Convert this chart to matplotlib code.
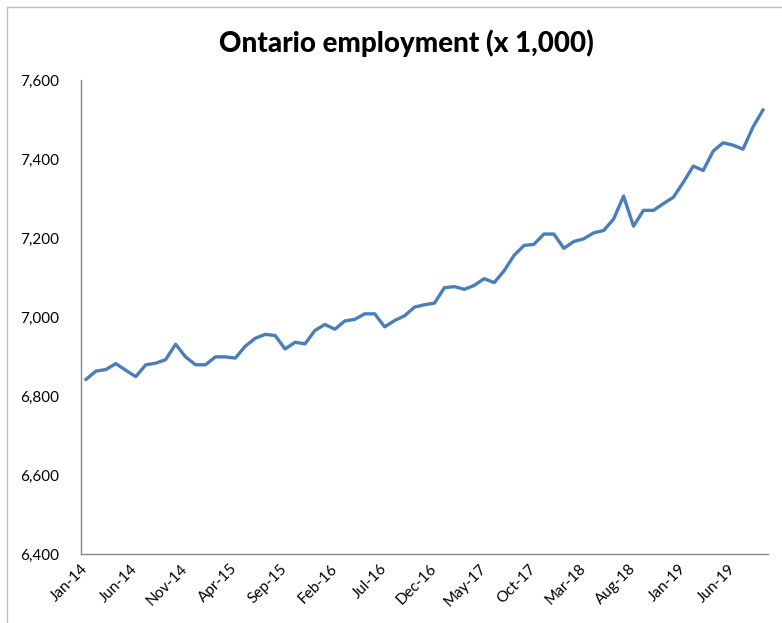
import matplotlib.pyplot as plt
from matplotlib.lines import Line2D
from matplotlib.ticker import FuncFormatter

# monthly values, Jan-14 .. Sep-19 (thousands)
months = ["Jan", "Feb", "Mar", "Apr", "May", "Jun",
          "Jul", "Aug", "Sep", "Oct", "Nov", "Dec"]
years = [14, 15, 16, 17, 18, 19]
employment = [
    6842, 6863, 6867, 6882, 6865, 6849, 6879, 6883, 6892, 6931, 6899, 6879,
    6879, 6899, 6899, 6896, 6926, 6946, 6956, 6953, 6919, 6936, 6932, 6966,
    6981, 6969, 6990, 6994, 7008, 7008, 6975, 6991, 7003, 7025, 7031, 7035,
    7074, 7077, 7070, 7080, 7097, 7087, 7117, 7156, 7181, 7184, 7210, 7210,
    7174, 7191, 7198, 7213, 7219, 7248, 7306, 7230, 7270, 7270, 7287, 7303,
    7341, 7382, 7371, 7420, 7441, 7435, 7425, 7481, 7524,
]
labels = [f"{m}-{y}" for y in years for m in months][:len(employment)]
yticks = [6400, 6600, 6800, 7000, 7200, 7400, 7600]

plt.rcParams["font.family"] = ["Lato", "DejaVu Sans"]

fig = plt.figure(figsize=(7.82, 6.23), dpi=100)
ax = fig.add_axes([0.1036, 0.1108, 0.8784, 0.7608])

x = list(range(len(employment)))
ax.plot(x, employment, color="#4A7EBB", linewidth=2.4, solid_joinstyle="round")

ax.set_xlim(-0.5, len(employment) - 0.5)
ax.set_ylim(6400, 7600)
ax.set_yticks(yticks)
ax.yaxis.set_major_formatter(FuncFormatter(lambda v, p: f"{int(v):,}"))
ax.set_xticks(x[::5])
ax.set_xticklabels(labels[::5], rotation=45, ha="right", va="center",
                   rotation_mode="anchor")

ax.tick_params(axis="both", length=0, labelsize=11, colors="black")
ax.tick_params(axis="y", pad=16)
ax.tick_params(axis="x", pad=9)

for side in ["top", "right"]:
    ax.spines[side].set_visible(False)
for side in ["left", "bottom"]:
    ax.spines[side].set_color("#868686")
    ax.spines[side].set_linewidth(1)

fig.text(0.52, 0.93, "Ontario employment (x 1,000)", ha="center", va="center",
         fontsize=20, fontweight="black")

# chart area border (left and top visible)
fig.add_artist(Line2D([7 / 782, 7 / 782], [0, 1 - 7 / 623],
                      transform=fig.transFigure, color="#BFBFBF", linewidth=1))
fig.add_artist(Line2D([7 / 782, 1], [1 - 7 / 623, 1 - 7 / 623],
                      transform=fig.transFigure, color="#BFBFBF", linewidth=1))

fig.savefig("out.png", dpi=100)
